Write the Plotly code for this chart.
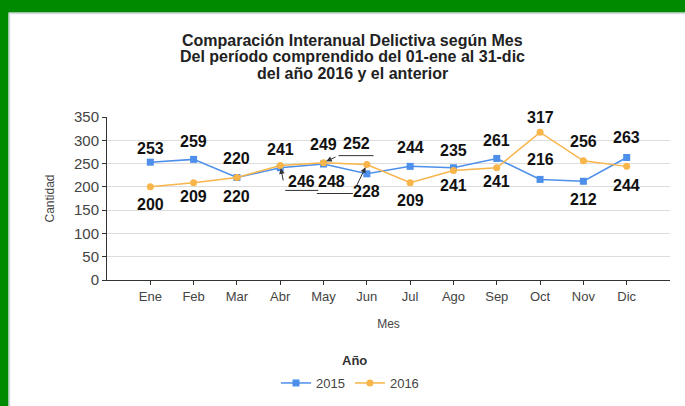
import plotly.graph_objects as go

months = ["Ene", "Feb", "Mar", "Abr", "May", "Jun", "Jul", "Ago", "Sep", "Oct", "Nov", "Dic"]
y2015 = [253, 259, 220, 241, 249, 228, 244, 241, 261, 216, 212, 263]
y2016 = [200, 209, 220, 246, 252, 248, 209, 235, 241, 317, 256, 244]
yticks = [0, 50, 100, 150, 200, 250, 300, 350]
title_lines = ["Comparación Interanual Delictiva según Mes",
               "Del período comprendido del 01-ene al 31-dic",
               "del año 2016 y el anterior"]

# label offsets (styling): (dx, dy) pixels, dy positive = up
off2015 = [(0, 14), (0, 18), (0, 19), (0, 18), (0, 20), (0, -18),
           (0, 19), (0, -18), (0, 18), (0, 20), (0, -18), (0, 20)]
off2016 = [(0, -18), (0, -14), (0, -19), (21, -16), (33, 19), (-35, -17),
           (0, -18), (0, 20), (0, -14), (0, 15), (0, 19), (0, -19)]
# leader polylines (pixel offsets from the point, y up) for crowded labels
leaders2016 = {3: [(0, 0), (5, -25), (38, -25)],
               4: [(0, 0), (15, 7), (50, 7)],
               5: [(0, 0), (-14, -29), (-50, -29)]}

BLUE = "#4D8FEA"
ORANGE = "#F7B54A"
W, H = 685, 406
L, R, T, B = 107, 15, 117, 126
pw, ph = W - L - R, H - T - B

def px(x):
    return (x - L) / pw

def py(y):
    return (H - B - y) / ph

FONT = "Liberation Sans, Arial, sans-serif"

fig = go.Figure()
fig.add_trace(go.Scatter(x=list(range(12)), y=y2015, mode="lines+markers", name="2015",
                         line=dict(color=BLUE, width=1.5),
                         marker=dict(symbol="square", size=7, color=BLUE)))
fig.add_trace(go.Scatter(x=list(range(12)), y=y2016, mode="lines+markers", name="2016",
                         line=dict(color=ORANGE, width=1.5),
                         marker=dict(symbol="circle", size=7, color=ORANGE)))

lab_font = dict(family=FONT, size=16, color="#111111")
anns = []
shapes = []
for i, v in enumerate(y2015):
    dx, dy = off2015[i]
    anns.append(dict(x=i, y=v, xref="x", yref="y", text="<b>%d</b>" % v, showarrow=False,
                     xanchor="center", yanchor="middle", xshift=dx, yshift=dy, font=lab_font))
for i, v in enumerate(y2016):
    dx, dy = off2016[i]
    anns.append(dict(x=i, y=v, xref="x", yref="y", text="<b>%d</b>" % v, showarrow=False,
                     xanchor="center", yanchor="middle", xshift=dx, yshift=dy, font=lab_font))
    if i in leaders2016:
        pts = leaders2016[i]
        # arrow for the first segment (head at the point)
        anns.append(dict(x=i, y=v, xref="x", yref="y", text=" ", showarrow=True,
                         ax=pts[1][0], ay=-pts[1][1], arrowhead=2, arrowsize=1.1, arrowwidth=1,
                         arrowcolor="#333333", standoff=3))
        path = "M%d,%d L%d,%d" % (pts[1][0], pts[1][1], pts[2][0], pts[2][1])
        shapes.append(dict(type="path", xref="x", yref="y", xsizemode="pixel", ysizemode="pixel",
                           xanchor=i, yanchor=v, path=path,
                           line=dict(color="#333333", width=1)))

# title lines
for k, t in enumerate(title_lines):
    anns.append(dict(x=px(352), y=py(40 + 16.5 * k), xref="paper", yref="paper", text="<b>%s</b>" % t,
                     showarrow=False, xanchor="center", yanchor="middle",
                     font=dict(family=FONT, size=16, color="#222222")))

# legend title
anns.append(dict(x=px(354), y=py(360), xref="paper", yref="paper", text="<b>Año</b>",
                 showarrow=False, xanchor="center", yanchor="middle",
                 font=dict(family=FONT, size=13, color="#333333")))

shapes += [
    dict(type="rect", xref="paper", yref="paper", x0=px(-5), x1=px(W + 5), y0=py(12.5), y1=py(-5),
         fillcolor="#008a00", line=dict(width=0), layer="above"),
    dict(type="rect", xref="paper", yref="paper", x0=px(-5), x1=px(8.5), y0=py(H + 5), y1=py(-5),
         fillcolor="#008a00", line=dict(width=0), layer="above"),
    dict(type="line", xref="paper", yref="paper", x0=px(9), x1=px(W + 5), y0=py(13.5), y1=py(13.5),
         line=dict(color="#d8d8e6", width=1.5)),
    dict(type="line", xref="paper", yref="paper", x0=px(9.5), x1=px(9.5), y0=py(13.5), y1=py(H + 5),
         line=dict(color="#d8d8e6", width=1.5)),
]

fig.update_layout(
    width=W, height=H,
    margin=dict(l=L, r=R, t=T, b=B, autoexpand=False),
    paper_bgcolor="white", plot_bgcolor="white",
    xaxis=dict(range=[-1, 12], tickmode="array", tickvals=list(range(12)), ticktext=months,
               showgrid=False, zeroline=False, showline=True, linecolor="#333333", linewidth=1,
               ticks="outside", ticklen=4, tickcolor="#333333", automargin=False,
               tickfont=dict(family=FONT, size=13, color="#444444"),
               title=dict(text="Mes", font=dict(family=FONT, size=12, color="#444444"), standoff=17)),
    yaxis=dict(range=[0, 350], tickmode="array", tickvals=yticks,
               showgrid=True, gridcolor="#dddddd", gridwidth=1, zeroline=False,
               showline=True, linecolor="#333333", linewidth=1,
               ticks="outside", ticklen=4, tickcolor="#333333", automargin=False,
               tickfont=dict(family=FONT, size=15, color="#444444"),
               title=dict(text="Cantidad", font=dict(family=FONT, size=12, color="#444444"), standoff=16)),
    legend=dict(orientation="h", x=px(350), xanchor="center", y=py(383), yanchor="middle",
                font=dict(family=FONT, size=13, color="#444444"), itemwidth=30,
                tracegroupgap=0),
    annotations=anns, shapes=shapes,
    showlegend=True,
)

fig.write_html("out.html", config={"displayModeBar": False},
               post_script="document.body.style.margin='0';document.body.style.overflow='hidden';")
